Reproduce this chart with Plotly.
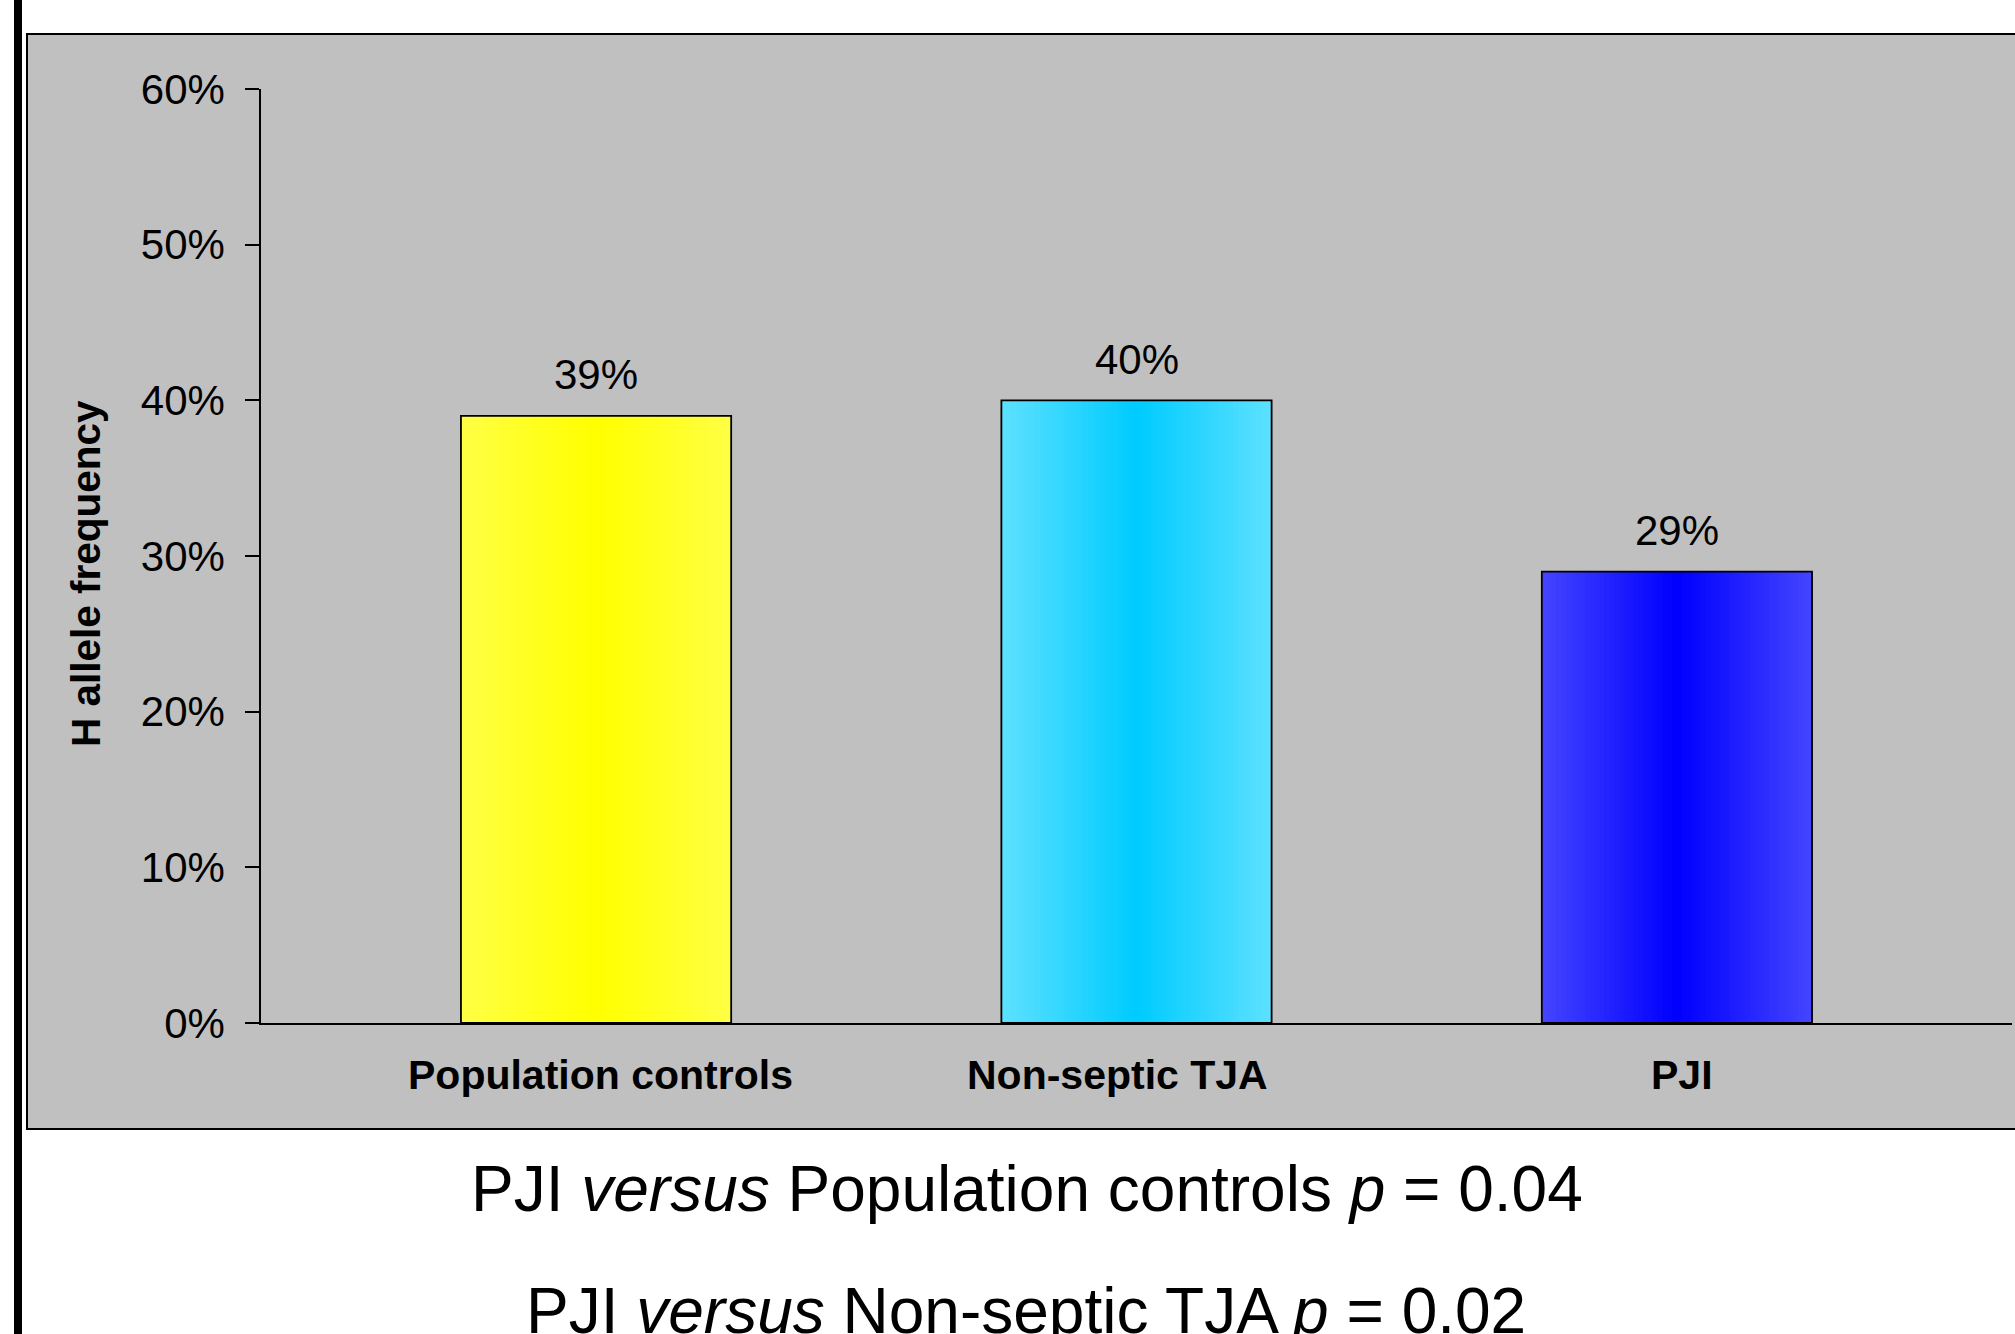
import plotly.graph_objects as go

# ---- data ----
categories = ["Population controls", "Non-septic TJA", "PJI"]
frequencies = [0.39, 0.40, 0.29]
value_labels = ["39%", "40%", "29%"]
y_ticks = [0.0, 0.1, 0.2, 0.3, 0.4, 0.5, 0.6]
y_tick_labels = ["0%", "10%", "20%", "30%", "40%", "50%", "60%"]
y_title = "H allele frequency"
footnotes = [
    "PJI <i>versus</i> Population controls <i>p</i> = 0.04",
    "PJI <i>versus</i> Non-septic TJA <i>p</i> = 0.02",
]

# ---- style ----
edge_colors = [(255, 255, 68), (92, 224, 255), (68, 68, 255)]
center_colors = [(255, 255, 0), (0, 204, 255), (0, 0, 255)]
cat_label_xshift = [4, -19, 5]
FONT = "Liberation Sans, Arial, sans-serif"
W, H = 2015, 1334
L, R, T, B = 261, 3, 89, 311
PW = W - L - R
PH = H - T - B


def px_x(p):
    return (p - L) / PW


def px_y(p):
    return (H - B - p) / PH


fig = go.Figure()

N = 28
bar_w = 0.5
for k in range(N):
    t = k / (N - 1)
    cols = []
    for e, c in zip(edge_colors, center_colors):
        rgb = [round(e[i] + (c[i] - e[i]) * t) for i in range(3)]
        cols.append("rgb(%d,%d,%d)" % tuple(rgb))
    fig.add_trace(go.Bar(
        x=categories, y=frequencies, width=bar_w * (1 - k / N),
        marker=dict(color=cols, line=dict(width=0)),
        showlegend=False, hoverinfo="skip",
    ))

# outline
fig.add_trace(go.Bar(
    x=categories, y=frequencies, width=bar_w,
    marker=dict(color="rgba(0,0,0,0)", line=dict(color="black", width=1.8)),
    showlegend=False, hoverinfo="skip",
))

# value labels
for c, v, lab in zip(categories, frequencies, value_labels):
    fig.add_annotation(x=c, y=v, text=lab, showarrow=False, yanchor="middle",
                       yshift=41, font=dict(family=FONT, size=42, color="black"))

# category labels
for c, dx in zip(categories, cat_label_xshift):
    fig.add_annotation(x=c, y=0, text=c, showarrow=False, yanchor="middle",
                       xshift=dx, yshift=-52,
                       font=dict(family=FONT, size=41, color="black", weight="bold"))

# y title
fig.add_annotation(xref="paper", yref="paper", x=px_x(86), y=px_y(574), text=y_title,
                   textangle=-90, showarrow=False, xanchor="center", yanchor="middle",
                   font=dict(family=FONT, size=40.5, color="black", weight="bold"))

# footnotes
for txt, cy, cx in zip(footnotes, [1189, 1311], [1026.5, 1026]):
    fig.add_annotation(xref="paper", yref="paper", x=px_x(cx), y=px_y(cy), text=txt,
                       showarrow=False, xanchor="center", yanchor="middle",
                       font=dict(family=FONT, size=64, color="black"))

# panel background and left bar
fig.add_shape(type="rect", xref="paper", yref="paper",
              x0=px_x(27), x1=px_x(2100), y0=px_y(1129), y1=px_y(34),
              fillcolor="#C0C0C0", line=dict(color="black", width=2), layer="below")
fig.add_shape(type="rect", xref="paper", yref="paper",
              x0=px_x(14), x1=px_x(22), y0=px_y(1400), y1=px_y(-20),
              fillcolor="black", line=dict(width=0), layer="above")

fig.update_layout(
    width=W, height=H,
    margin=dict(l=L, r=R, t=T, b=B, pad=0),
    paper_bgcolor="white", plot_bgcolor="#C0C0C0",
    barmode="overlay", bargap=0.5,
    font=dict(family=FONT, color="black"),
    xaxis=dict(
        type="category", range=[-0.62, 2.62], showline=True, linecolor="black",
        linewidth=1.5, ticks="", showgrid=False, zeroline=False,
        showticklabels=False,
    ),
    yaxis=dict(
        range=[0, 0.6], tickvals=y_ticks, ticktext=y_tick_labels,
        showline=True, linecolor="black", linewidth=1.5,
        ticks="outside", ticklen=14, tickwidth=1.5, tickcolor="black",
        showgrid=False, zeroline=False,
        tickfont=dict(family=FONT, size=42, color="black"),
        ticklabelstandoff=12,
    ),
)

fig.write_html(
    "out.html",
    config={"displayModeBar": False},
    post_script="document.body.style.margin='0';document.body.style.overflow='hidden';",
)
